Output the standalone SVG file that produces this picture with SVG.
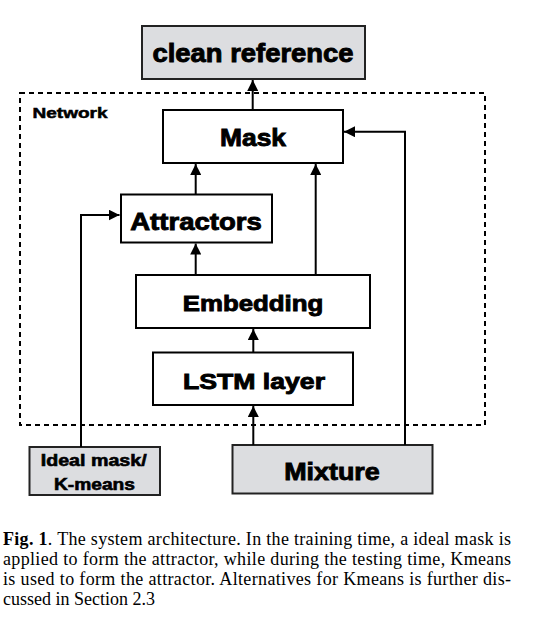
<svg xmlns="http://www.w3.org/2000/svg" width="533" height="643" viewBox="0 0 533 643">
<defs>
<marker id="ah" viewBox="0 0 10 10" refX="10" refY="5" markerWidth="5.5" markerHeight="5.5" orient="auto" markerUnits="strokeWidth">
<path d="M0,0 L10,5 L0,10 z" fill="#000"/>
</marker>
<style>
.box{fill:#fff;stroke:#000;stroke-width:2}
.gbox{fill:#dcdde0;stroke:#222;stroke-width:2}
.lbl{font-family:"Liberation Sans",Arial,sans-serif;font-weight:bold;text-anchor:middle;fill:#000;stroke:#000;stroke-width:0.9}
.conn{fill:none;stroke:#000;stroke-width:2;marker-end:url(#ah)}
.cap{font-family:"Liberation Serif","Times New Roman",serif;font-size:18px;fill:#000}
</style>
</defs>
<rect width="533" height="643" fill="#fff"/>
<g id="network">
<rect x="20" y="93" width="465" height="332" fill="none" stroke="#000" stroke-width="2" stroke-dasharray="5,4"/>
<text x="32.5" y="118" class="lbl" style="text-anchor:start;font-size:14px;stroke-width:0.5" textLength="75" lengthAdjust="spacingAndGlyphs">Network</text>
</g>
<g id="clean-reference">
<rect x="142" y="26" width="223" height="53" class="gbox"/>
<text x="253" y="62" class="lbl" style="font-size:25px" textLength="201" lengthAdjust="spacingAndGlyphs">clean reference</text>
</g>
<g id="mask">
<rect x="163" y="110" width="180" height="53" class="box"/>
<text x="253" y="146" class="lbl" style="font-size:24px" textLength="66" lengthAdjust="spacingAndGlyphs">Mask</text>
</g>
<g id="attractors">
<rect x="121" y="194.5" width="151" height="48" class="box"/>
<text x="196" y="229.5" class="lbl" style="font-size:24px" textLength="131.5" lengthAdjust="spacingAndGlyphs">Attractors</text>
</g>
<g id="embedding">
<rect x="136" y="275" width="234" height="53" class="box"/>
<text x="253" y="311" class="lbl" style="font-size:22px" textLength="140.5" lengthAdjust="spacingAndGlyphs">Embedding</text>
</g>
<g id="lstm">
<rect x="153" y="352.5" width="200" height="52.5" class="box"/>
<text x="254" y="388.5" class="lbl" style="font-size:22px" textLength="142" lengthAdjust="spacingAndGlyphs">LSTM layer</text>
</g>
<g id="ideal-mask">
<rect x="29.5" y="447" width="130.5" height="48" class="gbox"/>
<text x="93.7" y="466" class="lbl" style="font-size:16px;stroke-width:0.6" textLength="106" lengthAdjust="spacingAndGlyphs">Ideal mask/</text>
<text x="94.5" y="489.5" class="lbl" style="font-size:16px;stroke-width:0.6" textLength="81" lengthAdjust="spacingAndGlyphs">K-means</text>
</g>
<g id="mixture">
<rect x="232.5" y="445" width="200" height="48.5" class="gbox"/>
<text x="332" y="480" class="lbl" style="font-size:24px" textLength="95.5" lengthAdjust="spacingAndGlyphs">Mixture</text>
</g>
<g id="connectors">
<path class="conn" d="M252.7,110 L252.7,80"/>
<path class="conn" d="M195.7,194.5 L195.7,164"/>
<path class="conn" d="M195.7,275 L195.7,243.5"/>
<path class="conn" d="M315.7,275 L315.7,164"/>
<path class="conn" d="M253.3,352.5 L253.3,329"/>
<path class="conn" d="M253.3,445 L253.3,406"/>
<path class="conn" d="M81,447 L81,215 L119.5,215"/>
<path class="conn" d="M405,445 L405,131.7 L344,131.7"/>
</g>
<g id="caption" class="cap">
<text x="3" y="545" textLength="508" lengthAdjust="spacing"><tspan font-weight="bold">Fig. 1</tspan>. The system architecture. In the training time, a ideal mask is</text>
<text x="3" y="565" textLength="508" lengthAdjust="spacing">applied to form the attractor, while during the testing time, Kmeans</text>
<text x="3" y="585" textLength="508" lengthAdjust="spacing">is used to form the attractor. Alternatives for Kmeans is further dis-</text>
<text x="3" y="605">cussed in Section 2.3</text>
</g>
</svg>
